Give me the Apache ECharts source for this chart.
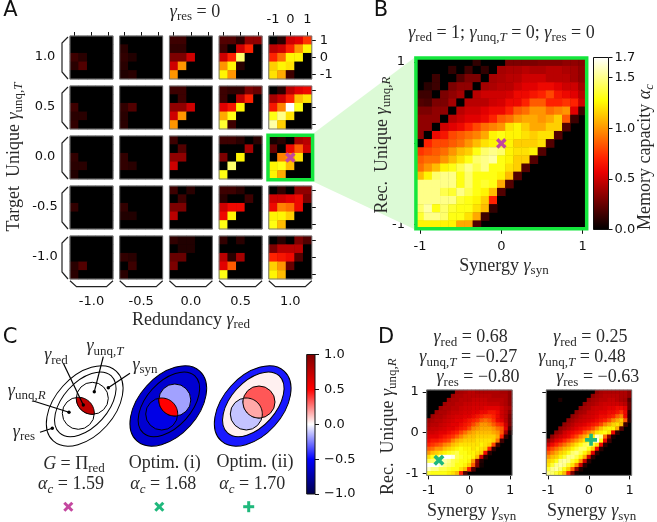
<!DOCTYPE html>
<html>
<head>
<meta charset="utf-8">
<style>html,body{margin:0;background:#fff}#chart{width:657px;height:522px}</style>
<script src="https://cdn.jsdelivr.net/npm/echarts@6/dist/echarts.min.js"></script>
</head>
<body>
<div id="chart"></div>
<script>
// tick labels
const redLabels = ['-1.0', '-0.5', '0.0', '0.5', '1.0'];
const unqLabels = ['1.0', '0.5', '0.0', '-0.5', '-1.0'];
const coarseTicks = ['-1', '-0.5', '0', '0.5', '1'];
const fineTicks = ['-1', '-0.9', '-0.8', '-0.7', '-0.6', '-0.5', '-0.4', '-0.3', '-0.2', '-0.1', '0',
  '0.1', '0.2', '0.3', '0.4', '0.5', '0.6', '0.7', '0.8', '0.9', '1'];
const capacityTicks = [0, 0.5, 1, 1.5, 1.7];
const weightTicks = [-1, -0.5, 0, 0.5, 1];

// panel A, one array per target unique value, five 5x5 maps each (rows top to bottom)
const unqT10 = [
  [[0,0,0,0,0],[0,0,0,0,0],[.15,.1,0,0,0],[.1,.2,0,0,0],[0,0,0,0,0]],
  [[0,0,0,0,0],[.1,0,0,0,0],[.12,.08,0,0,0],[.1,0,0,0,0],[.08,.1,0,0,0]],
  [[.15,.15,0,0,0],[.12,.12,0,0,0],[.3,.3,.5,0,0],[.5,1,0,0,0],[1,0,0,0,0]],
  [[.2,.2,.1,.35,.35],[.15,0,.5,.7,0],[.5,.7,1.45,0,0],[1,1.25,.1,0,0],[1.25,1,0,0,0]],
  [[0,.1,.5,.55,.75],[.45,.5,.7,1,1.25],[.7,.9,1.25,1.25,0],[1.15,1.25,1.2,0,0],[1.2,1.05,.15,0,0]]
];
const unqT05 = [
  [[0,0,0,0,0],[0,0,0,0,0],[.15,0,0,0,0],[.1,.1,0,0,0],[.12,0,0,0,0]],
  [[0,0,0,0,0],[0,0,0,0,0],[.12,.2,0,0,0],[.1,0,0,0,0],[.1,0,0,0,0]],
  [[.15,.15,0,0,0],[0,.15,0,0,0],[.35,.35,.5,0,0],[.5,1,0,0,0],[1,0,0,0,0]],
  [[.15,.12,.12,.3,.25],[.15,0,.45,.7,0],[.55,.65,1.25,0,0],[1.05,1.3,0,0,0],[1.35,.15,0,0,0]],
  [[0,.1,.45,.55,.6],[.4,.5,.7,1.1,1.2],[.65,.95,1.7,1.3,0],[1.3,1.5,1.2,0,0],[1.55,1.15,0,0,0]]
];
const unqT00 = [
  [[0,0,0,0,0],[0,0,0,0,0],[.12,0,0,0,0],[.1,.1,0,0,0],[.08,0,0,0,0]],
  [[0,0,0,0,0],[0,0,0,0,0],[.12,0,0,0,0],[.12,.1,0,0,0],[0,0,0,0,0]],
  [[.15,0,0,0,0],[0,.2,0,0,0],[.35,.35,0,0,0],[.5,0,0,0,0],[0,0,0,0,0]],
  [[.15,.15,.1,0,.1],[0,0,0,.4,0],[.3,0,1.25,0,0],[0,1.45,0,0,0],[1.3,0,0,0,0]],
  [[.05,.1,0,.4,.45],[.25,0,.6,.85,.5],[0,.95,1,1.2,0],[1.25,1.3,1.1,0,0],[1.25,1.05,0,0,0]]
];
const unqTm05 = [
  [[0,0,0,0,0],[0,0,0,0,0],[.12,0,0,0,0],[0,0,0,0,0],[0,0,0,0,0]],
  [[0,0,0,0,0],[0,0,0,0,0],[.12,0,0,0,0],[.08,.08,0,0,0],[0,0,0,0,0]],
  [[.15,0,.1,0,0],[0,.15,0,0,0],[.3,.3,0,0,0],[.45,0,0,0,0],[0,0,0,0,0]],
  [[.15,.15,.1,0,0],[.1,0,0,.15,0],[.5,.6,.6,0,0],[.6,1.25,0,0,0],[1.3,0,0,0,0]],
  [[0,.12,0,.35,.35],[.5,.5,.55,.6,.3],[.6,.95,.9,.6,0],[1.25,1.25,1.15,0,0],[1.3,1.1,0,0,0]]
];
const unqTm10 = [
  [[0,0,0,0,0],[0,0,0,0,0],[0,0,0,0,0],[.1,.2,0,0,0],[.1,0,0,0,0]],
  [[0,0,0,0,0],[0,0,0,0,0],[.12,.1,0,0,0],[0,.15,0,0,0],[.1,0,0,0,0]],
  [[.12,.08,.08,0,0],[0,.08,.08,0,0],[.25,.25,0,0,0],[.3,0,0,0,0],[0,0,0,0,0]],
  [[.12,0,.1,0,0],[0,0,0,0,0],[.45,.1,.4,0,0],[.55,.85,0,0,0],[1.3,0,0,0,0]],
  [[0,.1,0,.3,.2],[.3,.45,.45,.45,0],[.7,.65,.6,.2,0],[1.15,1,.25,0,0],[1.25,1.1,0,0,0]]
];

// panel B, rows from y=1 down to y=-1, columns from x=-1 (trailing black cells left out)
const capacityB = [
  [0,0,0,0,0,0,0,.12,0,0,0,.3,.3,.3,.3,.32,.32,.32,.35,.35,.33],
  [0,0,0,0,.12,0,.15,0,.12,0,.4,.42,.42,.45,.42,.42,.45,.45,.42,.4,.35],
  [0,0,.15,0,0,.2,.3,.3,0,.4,.42,.45,.45,.5,.5,.5,.45,.45,.45,.4,.35],
  [0,.1,.15,0,.3,.35,.35,0,.4,.42,.45,.45,.5,.55,.55,.6,.6,.55,.5,.5,.4],
  [.15,.15,0,.3,.35,.4,0,.45,.5,.5,.5,.52,.6,.6,.65,.7,.8,.65,.6,.55,.45],
  [.2,.18,.3,.3,.4,0,.45,.45,.45,.5,.52,.6,.6,.7,.85,.85,.7,.7,.75,.7,.5],
  [.3,.3,.35,.35,0,.45,.5,.5,.55,.6,.6,.7,.85,.9,1,1,.9,.95,1,.55,.15],
  [.35,.35,.35,0,.45,.5,.55,.55,.6,.7,.85,.9,1,1.05,1.05,1,1.05,1.15,.85,.15],
  [.35,.35,0,.5,.55,.6,.7,.8,.9,.95,1,1.2,1.25,1.15,1.05,1.05,1.15,1.15,.2],
  [.35,0,.6,.65,.8,.85,.9,.95,1.05,1.25,1.3,1.25,1.25,1.2,1.15,1.2,1.2,.2],
  [0,.7,.8,.8,.85,.9,1,1.1,1.2,1.25,1.3,1.25,1.15,1.15,1.15,1.2,.2],
  [.75,.8,.85,.9,1,1.1,1.15,1.3,1.45,1.5,1.45,1.25,1.2,1.2,1.25,.2],
  [.85,.9,.9,1,1.1,1.2,1.3,1.45,1.5,1.55,1.3,1.25,1.15,1.15,.2],
  [.9,1,1.1,1.25,1.3,1.4,1.5,1.4,1.5,1.3,1.3,1.2,1.15,.2],
  [1.1,1.25,1.45,1.5,1.5,1.3,1.45,1.3,1.3,1.3,1.25,1.1,.2],
  [1.5,1.5,1.5,1.5,1.5,1.3,1.45,1.3,1.35,1.3,1.05,.2],
  [1.5,1.5,1.5,1.4,1.35,1.5,1.4,1.3,1.25,1.1,.2],
  [1.5,1.5,1.5,1.5,1.5,1.35,1.3,1.25,1.15,.7,0],
  [1.45,1.55,1.3,1.45,1.35,1.3,1.3,1.2,1.1,.12],
  [1.35,1.5,1.5,1.45,1.3,1.3,1.2,1.05,.15],
  [1.25,1.25,1.25,1.25,1.25,1.05,1.05,.2]
];

// panel D, left map
const capacityD1 = [
  [0,0,0,0,0,0,0,.38,.4,.42,.45,.45,.42,.42,.42,.42,.42,.42,.4,.4,.35],
  [0,0,0,0,0,0,.38,.42,.42,.45,.45,.45,.45,.45,.45,.45,.42,.42,.42,.42,.35],
  [0,0,0,0,0,.38,.42,.42,.45,.45,.45,.48,.48,.48,.48,.45,.45,.45,.45,.42,.35],
  [0,0,0,0,.38,.42,.42,.45,.45,.48,.48,.5,.5,.5,.5,.48,.48,.48,.45,.42,.35],
  [0,0,0,.38,.42,.42,.45,.45,.48,.5,.5,.52,.52,.52,.55,.55,.55,.55,.5,.45,.4],
  [0,0,.38,.42,.42,.45,.48,.48,.5,.52,.52,.55,.55,.6,.6,.65,.65,.6,.5,.45,.35],
  [0,.38,.42,.42,.45,.48,.5,.52,.52,.55,.55,.6,.65,.7,.75,.75,.7,.6,.5,.45,.3],
  [.38,.42,.45,.45,.48,.5,.52,.55,.55,.6,.65,.7,.75,.85,.9,.85,.75,.6,.55,.45,.3],
  [.42,.45,.45,.48,.5,.52,.55,.55,.6,.65,.7,.8,.9,1,1,.95,.85,.75,.7,.5,.3],
  [.45,.48,.48,.5,.52,.55,.55,.6,.65,.7,.8,.95,1,1.05,1.05,1.05,1,.9,.85,.55,.2],
  [.5,.5,.52,.55,.55,.6,.65,.7,.8,.9,1,1.05,1.1,1.1,1.1,1.1,1.05,1,.85,.4,.08],
  [.55,.55,.55,.6,.65,.7,.75,.85,.95,1.05,1.1,1.1,1.15,1.15,1.15,1.15,1.15,1.05,.7,.12],
  [.6,.65,.65,.7,.75,.8,.95,1.05,1.1,1.15,1.15,1.15,1.2,1.2,1.2,1.2,1.15,.9,.15],
  [.7,.75,.8,.85,.95,1,1.1,1.15,1.2,1.2,1.2,1.2,1.2,1.25,1.2,1.15,.8,.15],
  [.85,.9,1,1,1.1,1.15,1.2,1.25,1.3,1.25,1.25,1.2,1.25,1.2,1.15,.7,.12],
  [1,1.1,1.15,1.2,1.25,1.3,1.35,1.4,1.3,1.3,1.25,1.25,1.2,1.15,.6,.1],
  [1.2,1.3,1.35,1.6,1.7,1.7,1.65,1.4,1.35,1.3,1.3,1.25,1.1,.5,.1],
  [1.4,1.45,1.5,1.6,1.55,1.5,1.4,1.35,1.3,1.3,1.25,1,.35,.08],
  [1.7,1.7,1.7,1.6,1.5,1.45,1.4,1.3,1.3,1.25,1.15,.85,.3,.05],
  [1.6,1.5,1.5,1.4,1.4,1.35,1.3,1.3,1.2,1.1,.7,.2],
  [1.35,1.3,1.3,1.3,1.3,1.25,1.2,1.1,.7,.2]
];

// panel D, right map
const capacityD2 = [
  [0,0,0,0,0,0,0,0,0,0,0,0,.35,.4,.42,.42,.42,.42,.42,.42,.35],
  [0,0,0,0,0,0,0,0,0,0,0,.35,.4,.42,.45,.45,.45,.45,.42,.42,.35],
  [0,0,0,.08,0,0,0,0,0,0,.35,.4,.42,.45,.45,.48,.48,.45,.42,.4,.2],
  [0,0,0,0,0,0,0,0,0,.35,.4,.42,.45,.48,.5,.5,.5,.5,.48,.45,.25],
  [0,0,0,0,0,0,0,0,.35,.4,.42,.48,.5,.5,.52,.55,.55,.6,.6,.55,.25],
  [0,0,0,0,0,0,0,.35,.4,.42,.48,.5,.52,.55,.55,.6,.6,.65,.75,.6,.12],
  [0,0,0,0,0,0,.35,.4,.45,.48,.5,.52,.55,.6,.6,.65,.7,.85,.95,.6,.1],
  [0,0,0,0,0,.35,.4,.45,.48,.5,.52,.55,.6,.65,.7,.8,.95,1.05,1.15,.85,.12],
  [0,0,0,0,.35,.4,.45,.5,.52,.55,.6,.65,.7,.8,.95,1.05,1.15,1.2,1.1,.15],
  [0,0,0,.35,.4,.45,.5,.55,.6,.65,.7,.8,.95,1.1,1.2,1.25,1.25,1.05,.2],
  [0,0,.35,.4,.5,.55,.6,.65,.7,.85,.95,1.05,1.2,1.25,1.3,1.2,.6,.1],
  [0,.35,.45,.5,.55,.6,.7,.8,.95,1.05,1.15,1.25,1.6,1.5,.9,.35,.05],
  [.35,.45,.55,.6,.7,.8,.9,1,1.1,1.2,1.3,1.6,1.7,1.3,.6,.15],
  [.5,.6,.7,.8,.9,1,1.1,1.2,1.3,1.4,1.45,1.35,1.2,.6,.1],
  [.7,.8,.9,1,1.1,1.15,1.25,1.35,1.45,1.45,1.3,1.15,.6,.1],
  [.85,.95,1.05,1.15,1.2,1.3,1.45,1.5,1.4,1.25,1.1,.55,.1],
  [1,1.1,1.15,1.25,1.35,1.5,1.5,1.4,1.25,1.05,.5,.1],
  [1.15,1.2,1.3,1.5,1.55,1.5,1.35,1.25,1,.5,.1],
  [1.2,1.35,1.5,1.55,1.5,1.35,1.2,.95,.5,.1],
  [1.35,1.5,1.55,1.45,1.3,1.15,.85,.35,.08],
  [1.5,1.45,1.35,1.25,1.1,.7,.3,.05]
];

// panel C, atom weights: G, Optim (i), Optim (ii)
const weightRes = [0, -0.63, -0.45];
const weightSyn = [0, -0.63, 0.03];
const weightUnqR = [0, -0.57, -0.115];
const weightUnqT = [0, -0.185, 0.33];
const weightRed = [0.75, 0.5, 0.17];

const SANS = '"DejaVu Sans"';
const SERIF = '"Liberation Serif"';
const MAGENTA = '#c4479f';
const GREEN = '#1fb87c';
const FRAME_GREEN = '#14e63c';
const PLUS = 'path://M3.5 0h3v3.5h3.5v3h-3.5v3.5h-3v-3.5h-3.5v-3h3.5z';

const HOT = ['#000000', '#3a0000', '#750000', '#af0000', '#e90000', '#ff2300', '#ff5a00',
  '#ff9200', '#ffc900', '#ffff04', '#ffff57', '#ffffab', '#ffffff'];

const RICH = {
  t: { fontFamily: SERIF, fontSize: 18, lineHeight: 22, fill: '#2a2a2a' },
  g: { fontFamily: SERIF, fontSize: 18, lineHeight: 22, fontStyle: 'italic', fill: '#2a2a2a' },
  s: { fontFamily: SERIF, fontSize: 13, lineHeight: 22, verticalAlign: 'bottom', fill: '#2a2a2a' },
  i: { fontFamily: SERIF, fontSize: 13, lineHeight: 22, fontStyle: 'italic', verticalAlign: 'bottom', fill: '#2a2a2a' }
};
const gRed = '{g|γ}{s|red}';
const gRes = '{g|γ}{s|res}';
const gSyn = '{g|γ}{s|syn}';
const gUnqT = '{g|γ}{s|unq,}{i|T}';
const gUnqR = '{g|γ}{s|unq,}{i|R}';
const aC = '{g|α}{i|c}';

// seismic colormap
function seismic(v) {
  const hex = (r, g, b) => `rgb(${Math.round(r * 255)},${Math.round(g * 255)},${Math.round(b * 255)})`;
  if (v < -0.5) return hex(0, 0, 0.3 + 0.7 * (v + 1) / 0.5);
  if (v < 0) return hex((v + 0.5) / 0.5, (v + 0.5) / 0.5, 1);
  if (v < 0.5) return hex(1, 1 - v / 0.5, 1 - v / 0.5);
  return hex(1 - (v - 0.5), 0, 0);
}

const grids = [], xAxes = [], yAxes = [], series = [], graphics = [], heatIdx = [];

function mathText(x, y, text, rotate) {
  graphics.push({
    type: 'text', x, y, rotation: rotate ? Math.PI / 2 : 0, z: 30,
    style: { text, rich: RICH, align: 'center', verticalAlign: 'middle', fontFamily: SERIF, fontSize: 18 }
  });
}
function sansText(x, y, text, size) {
  graphics.push({
    type: 'text', x, y, z: 30,
    style: { text, fontFamily: SANS, fontSize: size || 12, fill: '#111', align: 'center', verticalAlign: 'middle' }
  });
}
function frame(x, y, w, h, color, lw) {
  graphics.push({
    type: 'rect', z: 20, shape: { x, y, width: w, height: h },
    style: { fill: 'none', stroke: color, lineWidth: lw }
  });
}

// one heat map with its own grid and axes
function addHeat(box, cats, matrix, opt) {
  const idx = grids.length;
  grids.push({ left: box.x, top: box.y, width: box.w, height: box.h, show: true, backgroundColor: '#000', borderWidth: 0 });
  const every = (cats.length - 1) / 2 - 1;
  const tick = { lineStyle: { color: '#111', width: 1 }, length: opt.tickLen || 4, alignWithLabel: true, interval: every };
  xAxes.push({
    gridIndex: idx, type: 'category', data: cats, position: opt.xPos || 'bottom',
    axisLine: { show: false }, splitLine: { show: false },
    axisTick: Object.assign({ show: !!opt.xPos || !!opt.xTicks }, tick),
    axisLabel: { show: !!opt.xLabels, interval: every, margin: opt.xMargin || 7, fontFamily: SANS, fontSize: 13, color: '#111' }
  });
  yAxes.push({
    gridIndex: idx, type: 'category', data: cats, position: opt.yPos || 'left',
    axisLine: { show: false }, splitLine: { show: false },
    axisTick: Object.assign({ show: !!opt.yTicks }, tick),
    axisLabel: { show: !!opt.yLabels, interval: every, margin: opt.yMargin || 7, fontFamily: SANS, fontSize: 13, color: '#111' }
  });
  const n = cats.length;
  const data = [];
  matrix.forEach((row, r) => row.forEach((v, c) => data.push([c, n - 1 - r, v])));
  heatIdx.push(series.length);
  series.push({
    type: 'heatmap', xAxisIndex: idx, yAxisIndex: idx, data,
    silent: true, progressive: 0, itemStyle: { borderWidth: 0 }
  });
  if (opt.mark) {
    series.push({
      type: 'scatter', xAxisIndex: idx, yAxisIndex: idx, silent: true, z: 6,
      data: [opt.mark.at], symbol: PLUS, symbolSize: opt.mark.size,
      symbolRotate: opt.mark.rotate, symbolOffset: opt.mark.offset || [0, 0],
      itemStyle: { color: opt.mark.color, opacity: 1 }
    });
  }
  return idx;
}

// colour bar: bars filling a grid, gradient fill, axis on the right
function addBar(box, min, max, ticks, parts, fmt, margin) {
  const idx = grids.length;
  grids.push({ left: box.x, top: box.y, width: box.w, height: box.h });
  xAxes.push({ gridIndex: idx, type: 'category', data: [''], axisLine: { show: false }, axisTick: { show: false }, axisLabel: { show: false } });
  yAxes.push({
    gridIndex: idx, type: 'value', min, max, position: 'right', splitLine: { show: false },
    axisLine: { show: false },
    axisTick: { show: true, customValues: ticks, length: 4, lineStyle: { color: '#111' } },
    axisLabel: { customValues: ticks, formatter: fmt, margin, align: 'left', fontFamily: SANS, fontSize: 13, color: '#111', showMinLabel: true, showMaxLabel: true }
  });
  parts.forEach(p => series.push({
    type: 'bar', xAxisIndex: idx, yAxisIndex: idx, silent: true, barWidth: '100%', barGap: '-100%',
    data: [p.value],
    itemStyle: { color: new echarts.graphic.LinearGradient(0, 0, 0, 1, p.stops) }
  }));
  frame(box.x, box.y, box.w, box.h, '#111', 1);
}

/* ---------- panel A ---------- */
const panelX = [70, 119.7, 169.4, 219.1, 268.8];
const panelY = [36, 86, 136, 186, 236];
const PANEL = 43;
[unqT10, unqT05, unqT00, unqTm05, unqTm10].forEach((rowMaps, i) => {
  rowMaps.forEach((m, j) => {
    const opt = {};
    if (i === 0) { opt.xPos = 'top'; if (j === 4) { opt.xLabels = true; opt.xMargin = 10; } }
    if (j === 4) { opt.yPos = 'right'; opt.yTicks = true; if (i === 0) { opt.yLabels = true; opt.yMargin = 8; } }
    if (i === 2 && j === 4) opt.mark = { at: [2, 2], size: 11.5, rotate: 45, color: MAGENTA };
    const box = { x: panelX[j], y: panelY[i], w: PANEL, h: PANEL };
    addHeat(box, coarseTicks, m, opt);
    if (!(i === 2 && j === 4)) frame(box.x, box.y, box.w, box.h, '#777', 1);
  });
  // bracket on the left of the row
  const y = panelY[i];
  graphics.push({ type: 'polyline', z: 10, shape: { points: [[68, y + 1], [62, y + 7], [62, y + 36], [68, y + 43]] }, style: { fill: 'none', stroke: '#222', lineWidth: 1.2 } });
  sansText(45, y + 21, unqLabels[i], 13);
});
panelX.forEach((x, j) => {
  graphics.push({ type: 'polyline', z: 10, shape: { points: [[x, 280.7], [x + 6.5, 286.7], [x + 36.5, 286.7], [x + 43, 280.7]] }, style: { fill: 'none', stroke: '#222', lineWidth: 1.2 } });
  sansText(x + 21.5, 302, redLabels[j], 13);
});
frame(268, 135.2, 44.6, 44.6, FRAME_GREEN, 3.5);

// zoom wedge from panel A to panel B
graphics.push({ type: 'polygon', z: 1, shape: { points: [[314, 133], [414, 58], [414, 229], [314, 182]] }, style: { fill: '#dcfad6' } });

mathText(195, 12, `${gRes}{t| = 0}`);
mathText(191, 320, `{t|Redundancy }${gRed}`);
mathText(14, 157, `{t|Target  Unique }${gUnqT}`, true);

/* ---------- panel B ---------- */
const boxB = { x: 415.9, y: 58, w: 170.8, h: 170.8 };
addHeat(boxB, fineTicks, capacityB, {
  xTicks: true, yTicks: true, xLabels: true, yLabels: true, tickLen: 5, xMargin: 11, yMargin: 11,
  mark: { at: [10, 10], size: 11.5, rotate: 45, color: MAGENTA }
});
frame(boxB.x, boxB.y, boxB.w, boxB.h, FRAME_GREEN, 3.5);
addBar({ x: 593.5, y: 57.5, w: 15, h: 172 }, 0, 1.7, capacityTicks, [{
  value: 1.7,
  stops: HOT.slice().reverse().map((c, i) => ({ offset: i / (HOT.length - 1), color: c }))
}], v => v.toFixed(1), 6);

mathText(501.5, 33, `${gRed}{t| = 1; }${gUnqT}{t| = 0; }${gRes}{t| = 0}`);
mathText(504, 266, `{t|Synergy }${gSyn}`);
mathText(382, 145, `{t|Rec.  Unique }${gUnqR}`, true);
mathText(645, 157, `{t|Memory capacity }${aC}`, true);

/* ---------- panel C ---------- */
const diagX = [84.7, 168.3, 252.7];
const circT = [[92.3, 398.3], [174.8, 400], [259, 402]];
const circR = [[78.3, 413.3], [161.7, 414], [246.3, 414]];
const CIRC_R = 16;

// outline of the overlap of two equal circles
function lensPoints(a, b, r) {
  const dx = b[0] - a[0], dy = b[1] - a[1], d = Math.hypot(dx, dy);
  const h = Math.sqrt(r * r - d * d / 4);
  const mx = (a[0] + b[0]) / 2, my = (a[1] + b[1]) / 2;
  const p1 = [mx - dy / d * h, my + dx / d * h], p2 = [mx + dy / d * h, my - dx / d * h];
  const arc = (c, from, to) => {
    const a0 = Math.atan2(from[1] - c[1], from[0] - c[0]);
    let a1 = Math.atan2(to[1] - c[1], to[0] - c[0]);
    if (a1 - a0 > Math.PI) a1 -= 2 * Math.PI;
    if (a1 - a0 < -Math.PI) a1 += 2 * Math.PI;
    const pts = [];
    for (let k = 0; k <= 24; k++) {
      const t = a0 + (a1 - a0) * k / 24;
      pts.push([c[0] + r * Math.cos(t), c[1] + r * Math.sin(t)]);
    }
    return pts;
  };
  return arc(a, p1, p2).concat(arc(b, p2, p1));
}

diagX.forEach((cx, i) => {
  const stroke = { stroke: '#000', lineWidth: 1 };
  graphics.push({ type: 'ellipse', z: 5, x: cx, y: 406, originX: 0, originY: 0, rotation: 48 * Math.PI / 180, shape: { cx: 0, cy: 0, rx: 47, ry: 29.5 }, style: Object.assign({ fill: seismic(weightRes[i]) }, stroke) });
  graphics.push({ type: 'ellipse', z: 6, x: cx + 0.6, y: 404.3, originX: 0, originY: 0, rotation: 48 * Math.PI / 180, shape: { cx: 0, cy: 0, rx: 38.5, ry: 22.5 }, style: Object.assign({ fill: seismic(weightSyn[i]) }, stroke) });
  graphics.push({ type: 'circle', z: 7, shape: { cx: circR[i][0], cy: circR[i][1], r: CIRC_R }, style: Object.assign({ fill: seismic(weightUnqR[i]) }, stroke) });
  graphics.push({ type: 'circle', z: 8, shape: { cx: circT[i][0], cy: circT[i][1], r: CIRC_R }, style: Object.assign({ fill: seismic(weightUnqT[i]) }, stroke) });
  graphics.push({ type: 'polygon', z: 9, shape: { points: lensPoints(circR[i], circT[i], CIRC_R) }, style: Object.assign({ fill: seismic(weightRed[i]) }, stroke) });
});

// callouts on the first diagram
[
  [[103.3, 356.7], [94.3, 391.7]],
  [[63.3, 363.3], [83.3, 405]],
  [[130, 373.3], [108.3, 387.7]],
  [[33.3, 401], [69, 412.3]],
  [[40, 432.3], [52.3, 428.3]]
].forEach(([a, b]) => {
  graphics.push({ type: 'line', z: 10, shape: { x1: a[0], y1: a[1], x2: b[0], y2: b[1] }, style: { stroke: '#000', lineWidth: 1.2 } });
  graphics.push({ type: 'circle', z: 10, shape: { cx: b[0], cy: b[1], r: 1.7 }, style: { fill: '#000' } });
});
mathText(105, 346.7, gUnqT);
mathText(56, 355.7, gRed);
mathText(145, 365, gSyn);
mathText(26.7, 391, gUnqR);
mathText(24, 432.3, gRes);
mathText(74, 464.3, '{g|G}{t| = Π}{s|red}');
mathText(164.7, 463.3, '{t|Optim. (i)}');
mathText(255, 462.7, '{t|Optim. (ii)}');
mathText(71, 484.7, `${aC}{t| = 1.59}`);
mathText(163.3, 484.7, `${aC}{t| = 1.68}`);
mathText(252.3, 484.7, `${aC}{t| = 1.70}`);

// legend marks under the diagrams
function markLines(cx, cy, arm, diag, color) {
  const a = diag ? [[-arm, -arm, arm, arm], [-arm, arm, arm, -arm]] : [[-arm, 0, arm, 0], [0, -arm, 0, arm]];
  a.forEach(l => graphics.push({
    type: 'line', z: 10, shape: { x1: cx + l[0], y1: cy + l[1], x2: cx + l[2], y2: cy + l[3] },
    style: { stroke: color, lineWidth: 3 }
  }));
}
markLines(68.3, 506.7, 4, true, MAGENTA);
markLines(159.3, 506.7, 4, true, GREEN);
markLines(248.7, 506.7, 5.5, false, GREEN);

addBar({ x: 306.7, y: 354.5, w: 8.3, h: 139.5 }, -1, 1, weightTicks, [
  { value: 1, stops: [{ offset: 0, color: '#800000' }, { offset: 0.5, color: '#ff0000' }, { offset: 1, color: '#ffffff' }] },
  { value: -1, stops: [{ offset: 0, color: '#ffffff' }, { offset: 0.5, color: '#0000ff' }, { offset: 1, color: '#00004c' }] }
], v => v.toFixed(1).replace('-', '\u2212'), 9);

/* ---------- panel D ---------- */
const boxD1 = { x: 426.7, y: 390, w: 85.4, h: 85.4 };
const boxD2 = { x: 546.3, y: 390, w: 85.4, h: 85.4 };
addHeat(boxD1, fineTicks, capacityD1, {
  xTicks: true, yTicks: true, xLabels: true, yLabels: true, tickLen: 4, xMargin: 9, yMargin: 8,
  mark: { at: [3, 3], offset: [-2, -1], size: 12, rotate: 45, color: GREEN }
});
addHeat(boxD2, fineTicks, capacityD2, {
  xTicks: true, yTicks: true, xLabels: true, tickLen: 4, xMargin: 9,
  mark: { at: [11, 8], offset: [-2, -1], size: 12, rotate: 0, color: GREEN }
});
frame(boxD1.x, boxD1.y, boxD1.w, boxD1.h, '#777', 1);
frame(boxD2.x, boxD2.y, boxD2.w, boxD2.h, '#777', 1);

mathText(470.7, 337.7, `${gRed}{t| = 0.68}`);
mathText(468.3, 357.7, `${gUnqT}{t| = −0.27}`);
mathText(478, 377.7, `${gRes}{t| = −0.80}`);
mathText(590.3, 337.7, `${gRed}{t| = 0.25}`);
mathText(582, 357.7, `${gUnqT}{t| = 0.48}`);
mathText(597.7, 377.7, `${gRes}{t| = −0.63}`);
mathText(471.7, 511.7, `{t|Synergy }${gSyn}`);
mathText(591.7, 511.7, `{t|Synergy }${gSyn}`);
mathText(388, 426.7, `{t|Rec.  Unique }${gUnqR}`, true);

// panel letters
sansText(10.5, 10.5, 'A', 21);
sansText(381, 10.5, 'B', 21);
sansText(10, 337.5, 'C', 21);
sansText(386, 337.5, 'D', 21);

const myChart = echarts.init(document.getElementById('chart'));
myChart.setOption({
  animation: false,
  backgroundColor: '#fff',
  grid: grids,
  xAxis: xAxes,
  yAxis: yAxes,
  visualMap: { show: false, type: 'continuous', min: 0, max: 1.7, dimension: 2, seriesIndex: heatIdx, inRange: { color: HOT } },
  series,
  graphic: { elements: graphics }
});
</script>
</body>
</html>
